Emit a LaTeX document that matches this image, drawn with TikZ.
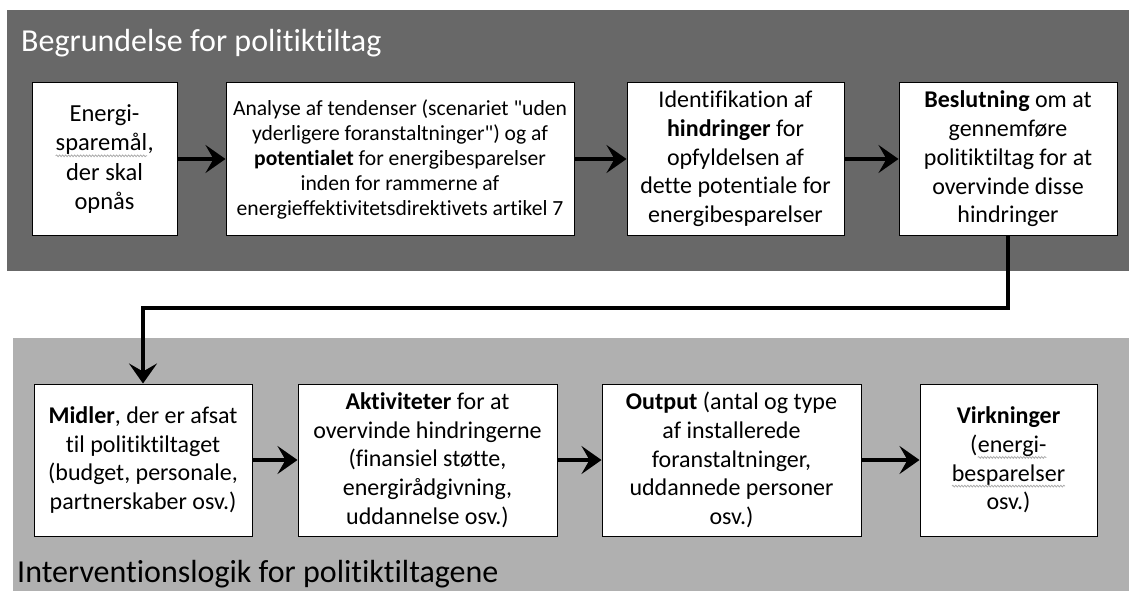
\documentclass[tikz,border=0pt]{standalone}
\usepackage{fontspec}
\setmainfont{Carlito}[Ligatures={TeXOff,NoCommon}]
\usetikzlibrary{arrows.meta,decorations.pathmorphing}
\definecolor{bandtop}{RGB}{104,104,104}
\definecolor{bandbot}{RGB}{176,176,176}
\newcommand{\spellmark}[1]{\tikz[baseline=(sw.base)]{%
	\node[draw=none, fill=none, inner sep=0pt, outer sep=0pt, minimum width=0pt, minimum height=0pt] (sw) {#1};%
	\draw[black!35, line width=0.7pt, decorate, decoration={snake, amplitude=0.9pt, segment length=3pt}]
		([yshift=-5pt]sw.base west) -- ([yshift=-5pt]sw.base east);}}
\tikzset{
  box/.style={draw=black, fill=white, line width=1pt, align=center, inner sep=0pt,
    minimum height=152pt, font=\fontsize{24}{28.7}\selectfont},
  flow/.style={line width=4pt, -{Stealth[length=20pt,width=28pt,inset=8pt]}},
  bandtitle/.style={anchor=base west, inner sep=0pt, font=\fontsize{32}{38}\selectfont}
}

\begin{document}
\begin{tikzpicture}[x=1pt,y=-1pt]
	\useasboundingbox (0,0) rectangle (1129,591);
	%%%%% BANDS %%%%%
	\fill[bandtop] (7,10) rectangle (1129,271);
	\fill[bandbot] (13,338) rectangle (1129,591);
	\node[bandtitle, text=white] (titletop) at (21,52) {Begrundelse for politiktiltag};
	\node[bandtitle] (titlebot) at (17,582) {Interventionslogik for politiktiltagene};
	
	%%%%% TOP ROW %%%%%
	\node[box, minimum width=145pt, font=\fontsize{24.5}{29.3}\selectfont] (maal) at (104.5,159) {Energi-\\\spellmark{sparemål},\\der skal\\opnås};
	\node[box, minimum width=348pt, font=\fontsize{21.6}{25}\selectfont] (analyse) at (400,159)
		{Analyse af tendenser (scenariet "uden\\yderligere foranstaltninger") og af\\\textbf{potentialet} for energibesparelser\\inden for rammerne af\\energieffektivitetsdirektivets artikel 7};
	\node[box, minimum width=217pt] (hindr) at (735.5,159) {Identifikation af\\\textbf{hindringer} for\\opfyldelsen af\\dette potentiale for\\energibesparelser};
	\node[box, minimum width=218pt] (beslut) at (1008,159) {\textbf{Beslutning} om at\\gennemføre\\politiktiltag for at\\overvinde disse\\hindringer};
	
	%%%%% BOTTOM ROW %%%%%
	\node[box, minimum width=218pt] (midler) at (143,460) {\textbf{Midler}, der er afsat\\til politiktiltaget\\(budget, personale,\\partnerskaber osv.)};
	\node[box, minimum width=259pt] (aktiv) at (427.5,460) {\textbf{Aktiviteter} for at\\overvinde hindringerne\\(finansiel støtte,\\energirådgivning,\\uddannelse osv.)};
	\node[box, minimum width=259pt] (output) at (731.5,460) {\textbf{Output} (antal og type\\af installerede\\foranstaltninger,\\uddannede personer\\osv.)};
	\node[box, minimum width=177pt] (virk) at (1008.5,460) {\textbf{Virkninger}\\(\spellmark{energi-}\\\spellmark{besparelser}\\osv.)};
	
	%%%%% ARROWS %%%%%
	\draw[flow] (maal) -- (analyse);
	\draw[flow] (analyse) -- (hindr);
	\draw[flow] (hindr) -- (beslut);
	\coordinate (turn) at (0,308);
	\draw[flow] (beslut.south) -- (beslut.south |- turn) -| (midler.north);
	\draw[flow] (midler) -- (aktiv);
	\draw[flow] (aktiv) -- (output);
	\draw[flow] (output) -- (virk);
\end{tikzpicture}
\end{document}
